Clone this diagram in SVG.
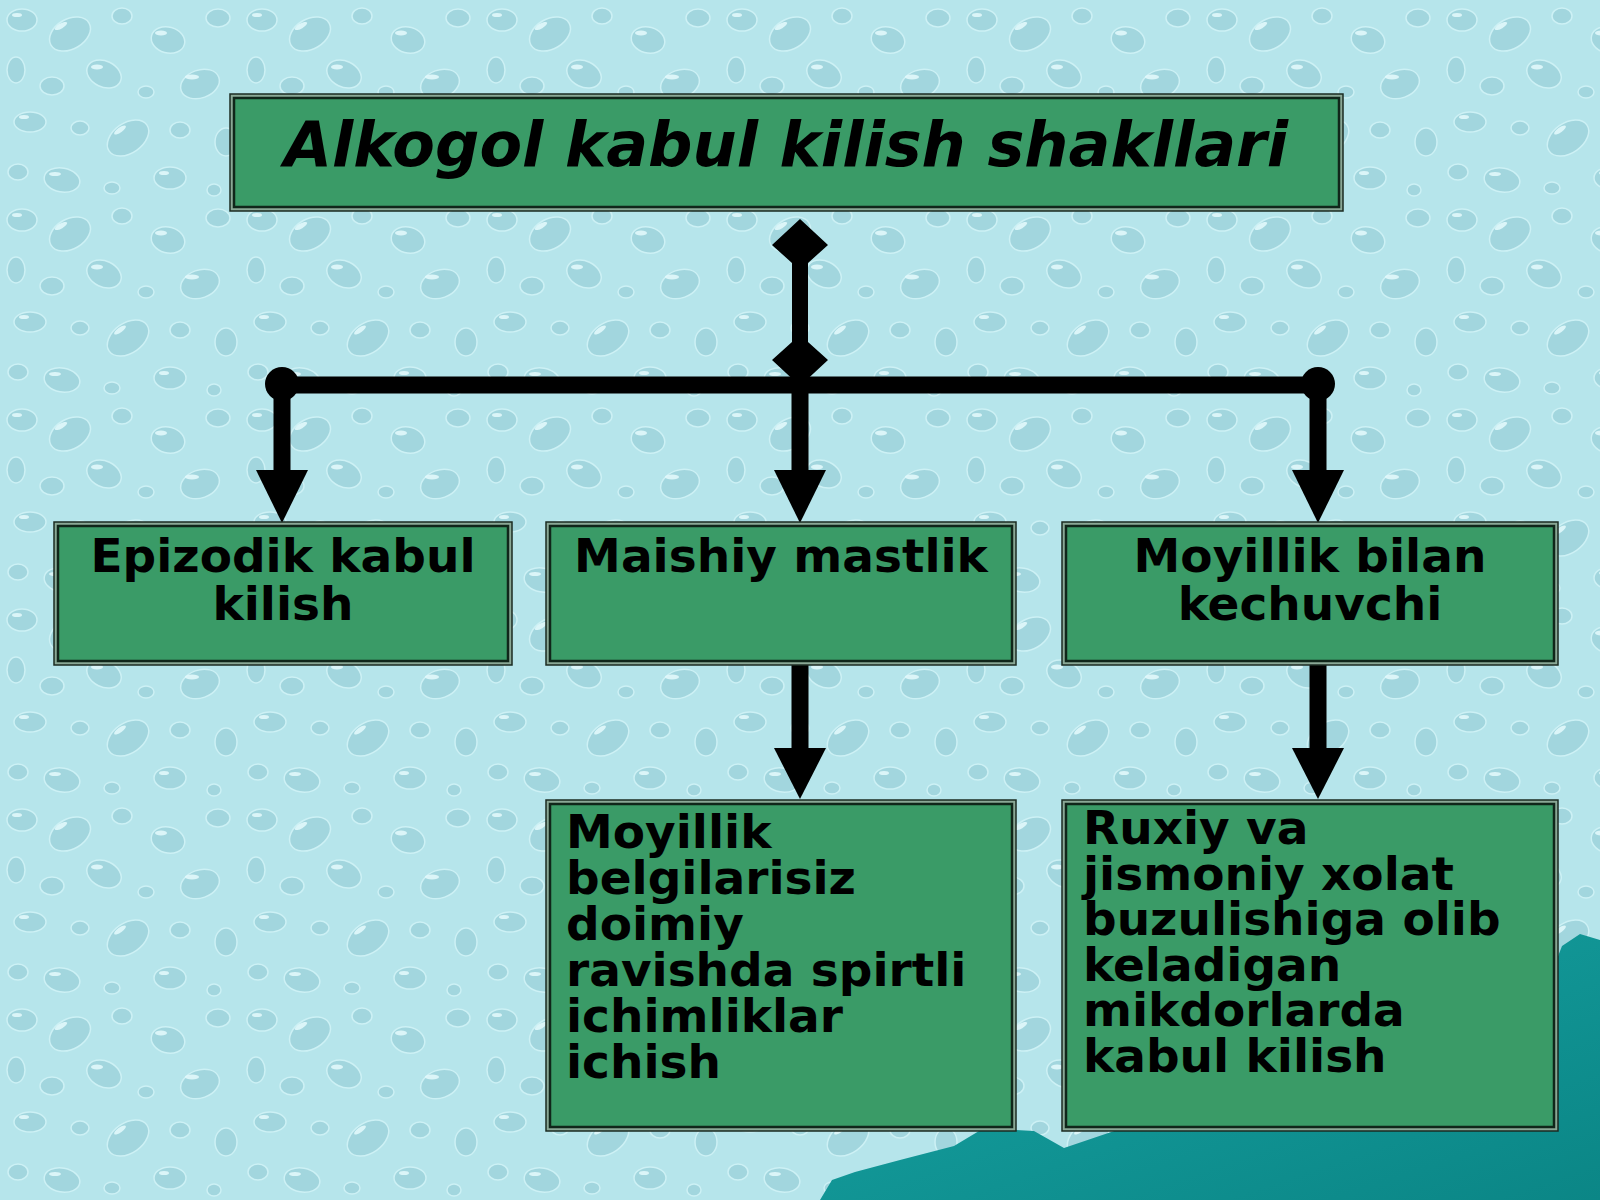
<svg xmlns="http://www.w3.org/2000/svg" width="1600" height="1200" viewBox="0 0 1600 1200">
  <defs>
    <pattern id="drops" x="0" y="0" width="240" height="200" patternUnits="userSpaceOnUse">
      <rect width="240" height="200" fill="#b6e5eb"/>
      <g fill="#a2d6de" stroke="#cdf1f5" stroke-width="1.5">
        <ellipse cx="22" cy="20" rx="15" ry="11"/>
        <ellipse cx="70" cy="34" rx="22" ry="15" transform="rotate(-30 70 34)"/>
        <ellipse cx="122" cy="16" rx="10" ry="8"/>
        <ellipse cx="168" cy="40" rx="17" ry="13" transform="rotate(15 168 40)"/>
        <ellipse cx="218" cy="18" rx="12" ry="9"/>
        <ellipse cx="16" cy="70" rx="9" ry="13"/>
        <ellipse cx="52" cy="86" rx="12" ry="9"/>
        <ellipse cx="104" cy="74" rx="18" ry="13" transform="rotate(25 104 74)"/>
        <ellipse cx="146" cy="92" rx="8" ry="6"/>
        <ellipse cx="200" cy="84" rx="20" ry="14" transform="rotate(-20 200 84)"/>
        <ellipse cx="30" cy="122" rx="16" ry="10"/>
        <ellipse cx="80" cy="128" rx="9" ry="7"/>
        <ellipse cx="128" cy="138" rx="23" ry="15" transform="rotate(-35 128 138)"/>
        <ellipse cx="180" cy="130" rx="10" ry="8"/>
        <ellipse cx="226" cy="142" rx="11" ry="14"/>
        <ellipse cx="18" cy="172" rx="10" ry="8"/>
        <ellipse cx="62" cy="180" rx="18" ry="12" transform="rotate(10 62 180)"/>
        <ellipse cx="112" cy="188" rx="8" ry="6"/>
        <ellipse cx="170" cy="178" rx="16" ry="11"/>
        <ellipse cx="214" cy="190" rx="7" ry="6"/>
      </g>
      <g fill="#e6fbfd" opacity="0.85">
        <ellipse cx="17" cy="15" rx="5" ry="2"/>
        <ellipse cx="61" cy="26" rx="7" ry="2.5" transform="rotate(-30 61 26)"/>
        <ellipse cx="161" cy="33" rx="6" ry="2.5"/>
        <ellipse cx="97" cy="67" rx="6" ry="2.5"/>
        <ellipse cx="192" cy="77" rx="7" ry="2.5"/>
        <ellipse cx="120" cy="130" rx="7" ry="2.5" transform="rotate(-35 120 130)"/>
        <ellipse cx="24" cy="117" rx="5" ry="2"/>
        <ellipse cx="55" cy="174" rx="6" ry="2"/>
        <ellipse cx="164" cy="173" rx="5" ry="2"/>
      </g>
    </pattern>
    <linearGradient id="teal" x1="0" y1="0" x2="1" y2="1">
      <stop offset="0" stop-color="#17a3a3"/>
      <stop offset="1" stop-color="#0b8686"/>
    </linearGradient>
    <style>
      .frame { fill: #8aa896; stroke: #1b2b22; stroke-width: 1.5; }
      .box { fill: #3a9b67; stroke: #10261a; stroke-width: 2.5; }
      .t { font-family: "DejaVu Sans", Verdana, sans-serif; font-weight: bold; fill: #000; }
      .title { font-size: 63px; font-style: italic; }
      .mid { font-size: 47px; text-anchor: middle; }
      .lst { font-size: 47px; }
      .ln { fill: none; stroke: #000; stroke-width: 17; }
      .hd { fill: #000; }
    </style>
  </defs>

  <rect width="1600" height="1200" fill="url(#drops)"/>

  <path d="M820,1200 L832,1180 L855,1172 L900,1160 L954,1146 L984,1128 L1034,1131 L1064,1148 L1123,1128 L1200,1125 L1300,1120 L1400,1100 L1500,1040 L1545,990 L1562,946 L1580,934 L1600,940 L1600,1200 Z" fill="url(#teal)"/>

  <g id="connectors">
    <path class="hd" d="M800,219 L828,245 L808,263 L808,342 L828,360 L800,386 L772,360 L792,342 L792,263 L772,245 Z"/>
    <line class="ln" x1="282" y1="385" x2="1318" y2="385"/>
    <circle class="hd" cx="282" cy="384" r="17"/>
    <circle class="hd" cx="1318" cy="384" r="17"/>
    <line class="ln" x1="282" y1="384" x2="282" y2="472"/>
    <line class="ln" x1="800" y1="380" x2="800" y2="472"/>
    <line class="ln" x1="1318" y1="384" x2="1318" y2="472"/>
    <path class="hd" d="M256,470 L308,470 L282,523 Z"/>
    <path class="hd" d="M774,470 L826,470 L800,523 Z"/>
    <path class="hd" d="M1292,470 L1344,470 L1318,523 Z"/>
    <line class="ln" x1="800" y1="664" x2="800" y2="750"/>
    <line class="ln" x1="1318" y1="664" x2="1318" y2="750"/>
    <path class="hd" d="M774,748 L826,748 L800,799 Z"/>
    <path class="hd" d="M1292,748 L1344,748 L1318,799 Z"/>
  </g>

  <g id="title">
    <rect class="frame" x="230" y="94" width="1113" height="117"/>
    <rect class="box" x="234" y="98" width="1105" height="109"/>
    <text class="t title" x="786" y="166" text-anchor="middle" textLength="1004" lengthAdjust="spacingAndGlyphs">Alkogol kabul kilish shakllari</text>
  </g>

  <g id="epizodik">
    <rect class="frame" x="54" y="522" width="458" height="143"/>
    <rect class="box" x="58" y="526" width="450" height="135"/>
    <text class="t mid" x="283" y="572">Epizodik kabul</text>
    <text class="t mid" x="283" y="620">kilish</text>
  </g>

  <g id="maishiy">
    <rect class="frame" x="546" y="522" width="470" height="143"/>
    <rect class="box" x="550" y="526" width="462" height="135"/>
    <text class="t mid" x="781" y="572">Maishiy mastlik</text>
  </g>

  <g id="moyillik">
    <rect class="frame" x="1062" y="522" width="496" height="143"/>
    <rect class="box" x="1066" y="526" width="488" height="135"/>
    <text class="t mid" x="1310" y="572">Moyillik bilan</text>
    <text class="t mid" x="1310" y="620">kechuvchi</text>
  </g>

  <g id="doimiy">
    <rect class="frame" x="546" y="800" width="470" height="331"/>
    <rect class="box" x="550" y="804" width="462" height="323"/>
    <text class="t lst" x="566" y="848">Moyillik</text>
    <text class="t lst" x="566" y="894">belgilarisiz</text>
    <text class="t lst" x="566" y="940">doimiy</text>
    <text class="t lst" x="566" y="986">ravishda spirtli</text>
    <text class="t lst" x="566" y="1032">ichimliklar</text>
    <text class="t lst" x="566" y="1078">ichish</text>
  </g>

  <g id="ruxiy">
    <rect class="frame" x="1062" y="800" width="496" height="331"/>
    <rect class="box" x="1066" y="804" width="488" height="323"/>
    <text class="t lst" x="1083" y="844">Ruxiy va</text>
    <text class="t lst" x="1083" y="890">jismoniy xolat</text>
    <text class="t lst" x="1083" y="935">buzulishiga olib</text>
    <text class="t lst" x="1083" y="981">keladigan</text>
    <text class="t lst" x="1083" y="1026">mikdorlarda</text>
    <text class="t lst" x="1083" y="1072">kabul kilish</text>
  </g>
</svg>
